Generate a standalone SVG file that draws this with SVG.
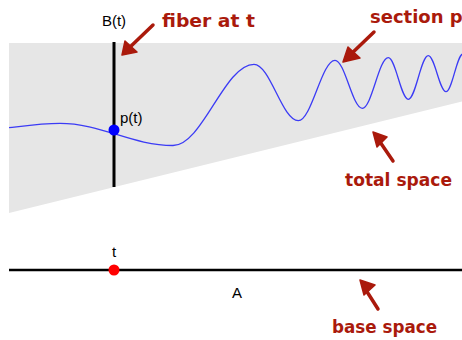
<svg xmlns="http://www.w3.org/2000/svg" width="462" height="340" viewBox="0 0 462 340">
<style>
.lbl{font-family:"Liberation Sans",Arial,sans-serif;font-size:15px;fill:#000}
.note{font-family:"DejaVu Sans",sans-serif;font-weight:bold;font-size:18px;fill:#aa1a0c}
.arr{stroke:#aa1a0c;stroke-width:3.5;stroke-linecap:round;fill:none}
.head{fill:#aa1a0c;stroke:#aa1a0c;stroke-width:1.5;stroke-linejoin:round}
</style>
<rect width="462" height="340" fill="#fff"/>
<g id="total-space">
<polygon points="9,43 462,43 462,101.5 9,213" fill="#e6e6e6"/>
</g>
<g id="section">
<path d="M9,127.7 C25,125.8 42,123.3 60,123.3 C101,123.3 132,145.5 173,145.5 C202.4,145.5 224.6,64.3 254,64.3 C270.1,64.3 282.2,120.7 298.3,120.7 C311.6,120.7 321.7,60.3 335,60.3 C344.9,60.3 352.4,108.3 362.3,108.3 C371.7,108.3 378.9,57.7 388.3,57.7 C395.6,57.7 401,99.3 408.3,99.3 C415.6,99.3 421,55.7 428.3,55.7 C434.7,55.7 439.6,91.7 446,91.7 C452.2,91.7 456.8,54 463,54" fill="none" stroke="#3b3bf5" stroke-width="1.3"/>
</g>
<g id="fiber">
<line x1="114" y1="42" x2="114" y2="187" stroke="#000" stroke-width="3"/>
<text class="lbl" x="114" y="25.5" text-anchor="middle">B(t)</text>
</g>
<g id="point-p">
<circle cx="114" cy="130" r="5.5" fill="#0000ff"/>
<text class="lbl" x="120" y="123">p(t)</text>
</g>
<g id="base-space">
<line x1="9" y1="270" x2="462" y2="270" stroke="#000" stroke-width="2.5"/>
<text class="lbl" x="237" y="298" text-anchor="middle">A</text>
</g>
<g id="point-t">
<circle cx="114" cy="270" r="5.5" fill="#ff0000"/>
<text class="lbl" x="114" y="257" text-anchor="middle">t</text>
</g>
<g id="labels">
<text class="note" x="162" y="27" textLength="93" lengthAdjust="spacingAndGlyphs">fiber at t</text>
<text class="note" x="370" y="23">section p</text>
<text class="note" x="345" y="186" textLength="107" lengthAdjust="spacingAndGlyphs">total space</text>
<text class="note" x="332" y="333" textLength="105" lengthAdjust="spacingAndGlyphs">base space</text>
</g>
<g id="connectors">
<line class="arr" x1="153" y1="25" x2="128" y2="49"/>
<polygon class="head" points="122,55 125,41 137,52"/>
<line class="arr" x1="374" y1="32" x2="349" y2="56"/>
<polygon class="head" points="343,62 348,47 360,58"/>
<line class="arr" x1="393" y1="161" x2="378" y2="139"/>
<polygon class="head" points="373,132 387,137 377,147"/>
<line class="arr" x1="378" y1="309" x2="364" y2="287"/>
<polygon class="head" points="360,280 375,285 364,295"/>
</g>
</svg>
